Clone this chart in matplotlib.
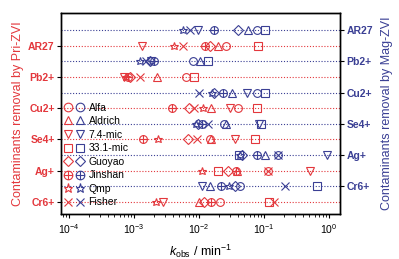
import matplotlib
matplotlib.use("Agg")
import matplotlib.pyplot as plt
from matplotlib.path import Path
from matplotlib.lines import Line2D
from matplotlib.legend_handler import HandlerTuple

plt.rcParams['font.family'] = ['Liberation Sans', 'DejaVu Sans']
plt.rcParams['mathtext.fontset'] = 'custom'
plt.rcParams['mathtext.rm'] = 'Liberation Sans'
plt.rcParams['mathtext.it'] = 'Liberation Sans:italic'
plt.rcParams['mathtext.bf'] = 'Liberation Sans:bold'

contaminants = ['AR27', 'Pb2+', 'Cu2+', 'Se4+', 'Ag+', 'Cr6+']
materials = ['Alfa', 'Aldrich', '7.4-mic', '33.1-mic', 'Guoyao', 'Jinshan', 'Qmp', 'Fisher']

# k_obs (min^-1), rows = materials, columns = contaminants
pri_kobs = [
    [0.026, 0.0063, 0.040, 0.0148, 0.115, 0.021],     # Alfa
    [0.0196, 0.00226, 0.0153, 0.0153, 0.0385, 0.0100],  # Aldrich
    [0.00133, 0.0007, 0.030, 0.0358, 0.51, 0.0028],   # 7.4-mic
    [0.081, 0.0084, 0.078, 0.073, 0.0196, 0.119],     # 33.1-mic
    [0.0148, 0.00087, 0.0070, 0.0068, 0.0279, 0.0119],  # Guoyao
    [0.0124, 0.00081, 0.00384, 0.00137, 0.037, 0.0153],  # Jinshan
    [0.0041, 0.00075, 0.0115, 0.00234, 0.0111, 0.0022],  # Qmp
    [0.0057, 0.00124, 0.0084, 0.0093, 0.115, 0.143],  # Fisher
]
mag_kobs = [
    [0.078, 0.0081, 0.078, 0.0243, 0.164, 0.0427],    # Alfa
    [0.057, 0.0104, 0.032, 0.026, 0.104, 0.0148],     # Aldrich
    [0.0097, 0.0018, 0.055, 0.084, 0.93, 0.0111],     # 7.4-mic
    [0.104, 0.0137, 0.104, 0.090, 0.0412, 0.65],      # 33.1-mic
    [0.040, 0.00176, 0.017, 0.0097, 0.0459, 0.0358],  # Guoyao
    [0.017, 0.00203, 0.0234, 0.0111, 0.078, 0.0218],  # Jinshan
    [0.0057, 0.00124, 0.0158, 0.009, 0.0427, 0.029],  # Qmp
    [0.0073, 0.00153, 0.010, 0.0137, 0.164, 0.21],    # Fisher
]

RED = '#E3373C'
BLUE = '#3A3F94'

circle = Path.unit_circle()
plus = Path([[-1, 0], [1, 0], [0, -1], [0, 1]],
            [Path.MOVETO, Path.LINETO, Path.MOVETO, Path.LINETO])
oplus = Path.make_compound_path(circle, plus)
markers = ['o', '^', 'v', 's', 'D', oplus, '*', 'x']
msizes = [5.6, 5.8, 5.8, 5.2, 4.6, 5.6, 6.2, 5.4]

fig = plt.figure(figsize=(3.99, 2.59), dpi=100)
ax = fig.add_axes([61/399, 1-214/259, (340-61)/399, (214-13)/259])

n = len(contaminants)
mag_pos = [2*j for j in range(n)]
pri_pos = [2*j + 1 for j in range(n)]

for p in mag_pos:
    ax.axhline(p, color=BLUE, ls=(0, (1, 1.6)), lw=0.8, zorder=1)
for p in pri_pos:
    ax.axhline(p, color=RED, ls=(0, (1, 1.6)), lw=0.8, zorder=1)

handles = []
for i, m in enumerate(materials):
    kw = dict(ls='none', marker=markers[i], ms=msizes[i], mfc='none', mew=0.8, zorder=3)
    ax.plot(pri_kobs[i], pri_pos, color=RED, mec=RED, **kw)
    ax.plot(mag_kobs[i], mag_pos, color=BLUE, mec=BLUE, **kw)
    hr = Line2D([], [], ls='none', marker=markers[i], ms=msizes[i] + 0.6, mfc='none', mec=RED, mew=0.8)
    hb = Line2D([], [], ls='none', marker=markers[i], ms=msizes[i] + 0.6, mfc='none', mec=BLUE, mew=0.8)
    handles.append((hr, hb))

ax.set_xscale('log')
ax.set_xlim(10**-4.123, 10**0.169)
ax.set_ylim(11.77, -1.09)

ax.set_yticks(pri_pos)
ax.set_yticklabels(contaminants, color=RED, fontweight='bold', fontsize=7.5)
ax.tick_params(axis='y', direction='out', length=3, width=0.8, colors='black', labelcolor=RED, pad=1.5)

ax2 = ax.twinx()
ax2.set_ylim(ax.get_ylim())
ax2.set_yticks(mag_pos)
ax2.set_yticklabels(contaminants, color=BLUE, fontweight='bold', fontsize=7.5)
ax2.tick_params(axis='y', direction='out', length=3, width=0.8, labelcolor=BLUE, pad=1.5)

ax.tick_params(axis='x', which='major', direction='out', length=3, width=0.8, labelsize=7.5, pad=3)
ax.tick_params(axis='x', which='minor', direction='out', length=1.8, width=0.6)
for a in (ax, ax2):
    for s in a.spines.values():
        s.set_linewidth(1.0)

ax.set_xlabel(r'$k_{\mathrm{obs}}$ / min$^{-1}$', fontsize=9, labelpad=5)
ax.set_ylabel('Contaminants removal by Pri-ZVI', color=RED, fontsize=9, labelpad=3)
ax2.set_ylabel('Contaminants removal by Mag-ZVI', color=BLUE, fontsize=9, labelpad=6)

leg = ax.legend(handles, materials, handler_map={tuple: HandlerTuple(ndivide=None, pad=0.35)},
                loc='upper left', bbox_to_anchor=(0.0, 0.57), frameon=False,
                fontsize=7.5, handlelength=1.9, handletextpad=0.45, labelspacing=0.34,
                borderaxespad=0.2, borderpad=0.1)

fig.savefig('out.png', dpi=100)
